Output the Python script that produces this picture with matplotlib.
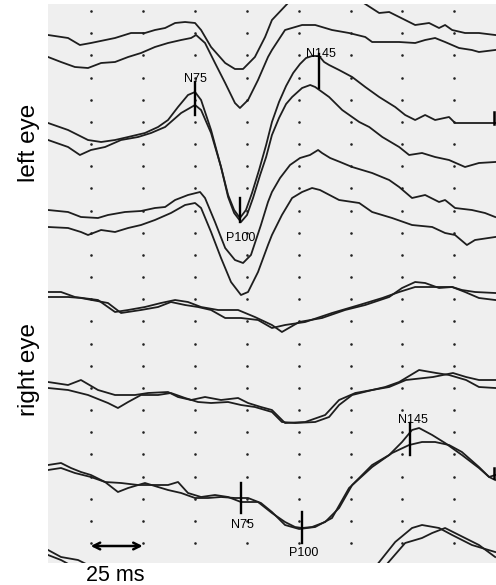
import numpy as np
import matplotlib
matplotlib.use("Agg")
import matplotlib.pyplot as plt

plt.rcParams['font.family'] = ['Liberation Sans', 'DejaVu Sans']

nan = np.nan
# ---------------- data: time (ms) and vertical trace position (display units, downwards) -------------
# Left eye, pair 1
A_t = [4.5,14.1,19.8,25.1,36.7,44.4,51.1,55.9,60.8,65.6,70.4,75.2,78.1,82.9,89.7,94.4,98.3,104.0,108.9,112.2,120.4,nan,155.6,163.8,168.6,176.3,181.1,187.8,192.6,195.5,198.9,205.1,211.8,219.6]
A_y = [35,38,45,43,38,33,33,30,28,23,22,23,30,47,63,69,69,57,37,20,2,nan,2,13,12,20,25,23,28,25,30,33,33,35]
B_t = [4.5,10.7,17.4,23.7,30.0,36.7,43.0,49.2,55.9,62.2,68.5,73.3,75.7,80.0,84.8,89.7,94.4,96.8,100.7,105.5,110.3,112.2,118.5,126.7,133.0,141.1,149.3,157.1,160.4,173.4,181.1,185.9,190.7,195.5,202.2,208.4,211.8,219.6]
B_y = [57,62,67,68,63,62,57,53,47,43,40,38,35,43,63,83,103,108,100,80,57,50,30,25,25,30,33,37,42,42,43,40,38,42,48,50,52,50]
# Left eye, pair 2 (N75 / P100 / N145)
C_t = [4.5,14.1,23.7,30.0,36.7,43.0,51.1,57.4,62.2,67.0,71.8,75.2,78.1,82.9,87.7,91.1,94.0,96.8,99.7,102.6,106.0,109.4,112.2,115.6,119.0,122.4,125.7,128.6,131.5,134.9,137.3,139.7,144.5,150.8,157.1,163.8,171.5,176.3,181.1,185.9,190.7,197.4,200.3,209.9,219.6]
C_y = [123,130,140,142,140,137,133,127,120,107,95,92,100,130,167,195,210,218,210,193,170,145,122,102,86,73,64,58,56,56,62,65,70,77,87,97,107,115,120,115,120,117,123,123,123]
D_t = [4.5,14.1,19.8,25.1,31.9,39.6,47.8,54.0,60.8,68.5,75.2,78.1,82.9,87.7,91.1,94.0,97.3,100.2,103.1,106.5,109.4,112.2,115.6,119.0,121.9,126.7,130.6,133.0,139.7,146.0,154.2,159.0,165.3,173.4,178.2,184.4,190.7,197.4,205.1,211.8,219.6]
D_y = [140,147,155,150,147,140,137,133,127,113,105,110,133,167,197,213,222,215,198,175,157,135,118,104,97,88,85,87,97,110,122,127,137,147,155,153,157,160,167,163,162]
# Left eye, pair 3
E_t = [4.5,14.1,20.3,28.5,33.3,41.5,49.2,55.9,60.8,65.6,71.8,77.6,80.0,84.8,89.7,94.4,98.3,102.1,106.9,110.3,112.2,116.1,120.9,125.7,130.5,134.4,136.3,140.2,145.0,150.8,155.6,160.4,168.6,173.4,179.6,185.9,192.6,195.5,200.3,208.4,214.7,219.6]
E_y = [210,212,217,218,215,212,211,208,207,200,195,192,198,222,248,260,263,255,225,202,192,178,165,158,155,150,153,158,162,167,170,173,180,187,198,195,202,200,208,210,213,217]
F_t = [4.5,14.1,20.3,23.7,30.0,36.7,43.0,49.2,55.9,63.6,70.4,75.2,78.1,82.9,87.7,92.5,97.3,100.7,105.5,110.3,112.2,117.0,121.9,126.7,131.5,135.3,144.5,154.2,160.4,170.0,179.6,189.3,195.5,200.3,206.0,209.9,219.6]
F_y = [227,228,232,235,230,232,228,225,220,213,205,203,208,232,258,282,295,292,272,245,235,215,198,192,188,190,200,203,212,218,225,227,233,235,245,240,237]
# Right eye, pair 1
G_t = [4.5,10.7,17.4,28.5,36.7,43.0,51.1,58.8,65.6,71.8,78.1,86.3,95.9,104.0,112.2,117.0,125.3,136.3,147.4,157.1,168.6,174.8,181.1,185.9,192.6,198.9,205.1,211.8,219.6]
G_y = [292,292,297,300,312,310,307,303,300,302,307,310,310,317,325,332,322,318,310,305,297,288,282,283,288,287,292,298,300]
H_t = [4.5,14.1,20.3,33.3,39.6,49.2,57.4,63.6,70.4,76.6,82.9,89.7,97.3,105.5,112.2,118.5,128.2,141.1,154.2,165.3,173.4,181.1,187.8,198.9,203.6,209.9,219.6]
H_y = [297,297,298,303,313,310,307,302,305,307,310,318,318,320,328,325,322,313,305,298,292,287,287,287,290,292,293]
# Right eye, pair 2
I_t = [4.5,14.1,20.3,28.5,36.7,46.3,52.6,62.2,67.0,73.3,80.0,87.7,95.9,100.7,106.9,112.2,118.5,128.2,137.8,144.5,152.3,160.4,166.7,173.4,183.0,191.2,197.4,205.6,211.8,219.6]
I_y = [382,385,380,390,395,395,393,392,397,400,397,400,398,403,407,410,423,422,415,400,393,390,387,382,370,373,375,380,387,388]
J_t = [4.5,14.1,23.7,33.3,38.1,43.0,49.2,57.4,63.6,70.4,76.6,82.9,91.1,97.3,104.0,112.2,117.0,123.3,133.0,139.7,144.5,150.8,160.4,168.6,176.7,189.7,199.3,205.6,211.8,219.6]
J_y = [388,390,395,403,408,402,395,395,393,398,402,403,402,405,407,412,422,423,422,417,405,395,390,387,380,377,373,377,380,380]
# Right eye, pair 3 (N75 / P100 / N145)
K_t = [4.5,10.7,15.5,20.3,25.1,31.9,39.6,47.8,55.9,62.2,67.0,71.8,78.1,84.8,91.1,97.3,105.5,112.2,118.5,123.3,126.7,131.5,137.8,144.5,150.8,160.4,168.6,174.8,179.6,183.0,189.3,195.5,203.6,211.8,216.7,219.6]
K_y = [465,463,468,472,475,482,483,485,485,485,482,493,497,495,497,502,502,513,522,527,528,527,522,508,485,465,455,442,430,428,435,443,455,468,477,475]
L_t = [4.5,10.7,17.4,25.1,31.9,38.1,43.0,51.1,57.4,62.2,68.5,75.2,81.5,87.7,94.4,100.7,106.9,112.2,118.5,125.3,133.0,141.1,149.3,160.4,170.0,178.2,184.4,190.7,197.4,203.6,211.8,216.7,219.6]
L_y = [470,468,473,477,482,492,488,483,487,490,493,498,498,497,498,498,503,512,525,529,527,518,488,467,453,445,442,442,445,452,467,477,480]
# Partially visible pair at the bottom
M_t = [4.5,10.7,18.9,24.7,nan,162.3,171.5,179.6,184.4,192.6,198.9,208.4,219.6]
M_y = [550,557,560,566,nan,566,542,528,525,528,535,545,552]
N_t = [4.5,10.7,16.0,nan,166.7,176.3,184.4,189.3,195.5,202.2,211.8,219.6]
N_y = [555,560,566,nan,566,543,538,533,528,535,545,557]

traces = [(A_t, A_y), (B_t, B_y), (C_t, C_y), (D_t, D_y), (E_t, E_y), (F_t, F_y),
          (G_t, G_y), (H_t, H_y), (I_t, I_y), (J_t, J_y), (K_t, K_y), (L_t, L_y),
          (M_t, M_y), (N_t, N_y)]

# peak markers: label, latency (ms), top, bottom, label position
markers_lbl = ["N75", "P100", "N145", "N75", "P100", "N145"]
markers_t = [75.2, 96.8, 134.9, 97.3, 126.7, 178.6]
markers_y0 = [82, 198, 54, 483, 512, 423]
markers_y1 = [115, 222, 88, 513, 543, 455]
label_t = [75.2, 97.0, 135.8, 97.8, 127.6, 180.0]
label_y = [82, 241, 57, 528, 556, 423]
edge_marks_y0 = [112, 468]
edge_marks_y1 = [124, 478]

grid_t = [25, 50, 75, 100, 125, 150, 175, 200]
scale_ms = 25

# ---------------- figure ----------------
W, H = 496, 585
fig = plt.figure(figsize=(W / 100, H / 100), dpi=100)
ax = fig.add_axes([48 / W, 22 / H, 448 / W, 559 / H])
ax.set_facecolor('#efefef')
ax.set_xlim(4.45, 220.0)
ax.set_ylim(563, 4)
for s in ax.spines.values():
    s.set_visible(False)
ax.set_xticks([])
ax.set_yticks([])

# dotted grid
rows = 11 + 22.17 * np.arange(25)
gx, gy = np.meshgrid(grid_t, rows)
ax.scatter(gx.ravel(), gy.ravel(), s=3.5, color='#222222', linewidths=0, zorder=1)

for t, y in traces:
    ax.plot(t, y, color='#1e1e1e', lw=1.3, zorder=2, solid_joinstyle='round')

for lbl, t, y0, y1, lt, ly in zip(markers_lbl, markers_t, markers_y0, markers_y1, label_t, label_y):
    ax.plot([t, t], [y0, y1], color='black', lw=1.7, zorder=3)
    ax.text(lt, ly, lbl, fontsize=9, ha='center', va='baseline', color='black', zorder=4)

for y0, y1 in zip(edge_marks_y0, edge_marks_y1):
    ax.plot([219.2, 219.2], [y0, y1], color='black', lw=1.8, zorder=3)

# scale bar
ax.annotate('', xy=(grid_t[0], 546), xytext=(grid_t[0] + scale_ms, 546),
            arrowprops=dict(arrowstyle='<->', lw=1.8, color='black', mutation_scale=12,
                            shrinkA=0, shrinkB=0))

fig.text(115 / W, 1 - 581 / H, f"{scale_ms} ms", fontsize=15.5, ha='center', va='baseline')
fig.text(35 / W, 1 - 143 / H, "left eye", fontsize=17.5, rotation=90,
         rotation_mode='anchor', ha='center', va='baseline')
fig.text(35 / W, 1 - 370 / H, "right eye", fontsize=17.5, rotation=90,
         rotation_mode='anchor', ha='center', va='baseline')

fig.savefig("out.png", dpi=100, facecolor='white')
